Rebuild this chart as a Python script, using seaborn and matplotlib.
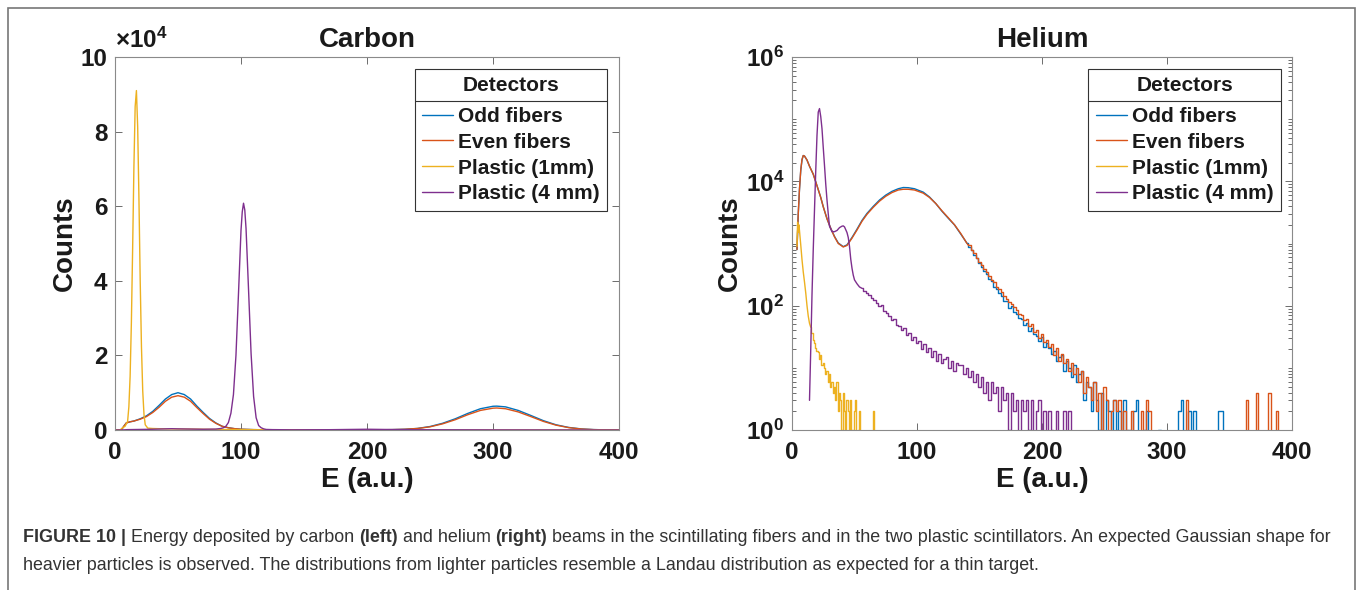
import numpy as np
import pandas as pd
import matplotlib
matplotlib.use("Agg")
import matplotlib.pyplot as plt
import seaborn as sns
from matplotlib.lines import Line2D
from matplotlib.patches import Rectangle
from matplotlib.ticker import FixedLocator, FuncFormatter, NullFormatter, LogLocator

# ------------------------------------------------------------------ data
DETECTORS = ["Odd fibers", "Even fibers", "Plastic (1mm)", "Plastic (4 mm)"]
COLORS = ["#0072BD", "#D95319", "#EDB120", "#7E2F8E"]

# ---- Carbon (counts in units of 10^4)
carbon_fiber_E = [0, 5, 7, 9, 12, 15, 20, 25, 30, 35,
                  40, 45, 50, 55, 60, 65, 70, 75, 80, 85,
                  90, 95, 100, 110, 120, 140, 160, 180, 200, 220,
                  230, 240, 250, 260, 270, 280, 290, 300, 303, 310,
                  320, 330, 340, 350, 360, 370, 380, 390, 400]
carbon_odd = [0, 0, 0.1, 0.19, 0.22, 0.24, 0.3, 0.38, 0.5, 0.66,
              0.83, 0.95, 1.0, 0.95, 0.83, 0.64, 0.47, 0.31, 0.19, 0.1,
              0.06, 0.035, 0.02, 0.01, 0.005, 0.003, 0.002, 0.002, 0.003, 0.01,
              0.02, 0.042, 0.093, 0.18, 0.30, 0.445, 0.57, 0.636, 0.64, 0.62,
              0.525, 0.39, 0.25, 0.14, 0.069, 0.029, 0.011, 0.004, 0.0]
carbon_even = [0, 0, 0.1, 0.19, 0.22, 0.24, 0.29, 0.36, 0.47, 0.61,
               0.77, 0.88, 0.92, 0.88, 0.77, 0.6, 0.44, 0.29, 0.18, 0.1,
               0.06, 0.035, 0.02, 0.01, 0.005, 0.003, 0.002, 0.002, 0.003, 0.01,
               0.02, 0.04, 0.085, 0.165, 0.275, 0.41, 0.525, 0.585, 0.59, 0.57,
               0.485, 0.36, 0.23, 0.13, 0.064, 0.027, 0.01, 0.004, 0.0]
carbon_p1_E = [0, 4, 6, 8, 10, 11, 12, 13, 14, 15,
               16, 17, 18, 19, 20, 21, 22, 23, 24, 26,
               30, 40, 60, 80, 100, 120, 150, 200, 300, 400]
carbon_p1 = [0, 0, 0.06, 0.1, 0.23, 0.62, 1.44, 2.88, 4.87, 7.04,
             8.67, 9.1, 8.12, 6.2, 4.0, 2.23, 1.05, 0.42, 0.14, 0.05,
             0.04, 0.03, 0.025, 0.015, 0.01, 0.005, 0.002, 0, 0, 0]
carbon_p4_E = [0, 5, 10, 20, 30, 40, 45, 50, 60, 70,
               80, 84, 86, 88, 90, 92, 94, 96, 98, 100,
               101, 102, 103, 104, 106, 108, 110, 112, 114, 116,
               118, 120, 125, 140, 170, 200, 230, 300, 400]
carbon_p4 = [0, 0, 0.01, 0.015, 0.02, 0.03, 0.035, 0.03, 0.025, 0.02,
             0.025, 0.04, 0.06, 0.1, 0.2, 0.45, 0.95, 2.0, 3.65, 5.35,
             5.85, 6.08, 5.9, 5.4, 3.75, 2.05, 0.9, 0.33, 0.12, 0.06,
             0.03, 0.015, 0.01, 0.005, 0.008, 0.02, 0.008, 0.003, 0.0]

# ---- Helium (counts); smooth part + noisy 2-unit bins
helium_fiber_E = [4, 5, 6, 7, 8, 9, 10, 12, 14, 17,
                  20, 23, 25, 28, 31, 34, 37, 41, 44, 48,
                  52, 56, 60, 65, 70, 75, 80, 85, 89, 93,
                  98, 105, 110, 115, 120, 125, 130, 135]
helium_odd = [800, 3000, 7500, 15000, 22000, 26000, 25500, 22000, 17500, 13000,
              8500, 5500, 3900, 2500, 1750, 1300, 1020, 890, 950, 1250,
              1700, 2350, 3050, 3950, 5000, 6000, 6900, 7600, 7950, 7900,
              7600, 6700, 5600, 4400, 3300, 2550, 1990, 1420]
helium_even = [800, 3000, 7600, 15200, 22500, 26000, 25500, 22000, 17500, 13000,
               8500, 5500, 3900, 2500, 1750, 1280, 1000, 880, 930, 1220,
               1650, 2280, 2950, 3820, 4800, 5750, 6600, 7250, 7450, 7450,
               7250, 6450, 5500, 4400, 3350, 2600, 2000, 1450]
helium_fiber_bin_start = 140
helium_odd_tail = [1010, 890, 780, 655, 585, 478, 421, 356, 322, 270,   # 140-158
                   249, 203, 188, 157, 144, 121, 117, 93, 99, 78,       # 160-178
                   74, 63, 61, 48, 53, 39, 44, 35, 32, 27,              # 180-198
                   31, 22, 25, 21, 17, 19, 13, 15, 16, 9,               # 200-218
                   13, 10, 7, 11, 6, 8, 9, 3, 6, 5,                     # 220-238
                   2, 6, 3, 1, 4, 0, 3, 2, 0, 3,                        # 240-258
                   1, 2, 0, 3, 0, 1, 0, 2, 3, 0,                        # 260-278
                   0, 1, 2, 0, 0, 0, 0, 1, 0, 0,                        # 280-298
                   0, 0, 0, 0, 0, 2, 3, 0, 0, 2,                        # 300-318
                   0, 2, 0, 0, 0, 0, 0, 0, 0, 0,                        # 320-338
                   0, 2, 2, 0, 0, 0, 0, 0, 0, 0,                        # 340-358
                   0, 0, 0, 0, 0, 0, 0, 0, 0, 0,                        # 360-378
                   0, 0, 0, 0, 0, 0, 0, 0, 0, 0]                        # 380-398
helium_even_tail = [1000, 935, 785, 700, 595, 512, 446, 395, 342, 305,  # 140-158
                    258, 243, 201, 184, 163, 143, 128, 113, 106, 95,    # 160-178
                    84, 73, 70, 59, 60, 47, 50, 38, 41, 30,             # 180-198
                    35, 26, 28, 22, 24, 16, 21, 13, 17, 12,             # 200-218
                    14, 9, 12, 8, 10, 6, 9, 4, 7, 5,                    # 220-238
                    3, 6, 2, 4, 1, 5, 3, 0, 2, 3,                       # 240-258
                    2, 3, 0, 2, 1, 0, 2, 0, 0, 0,                       # 260-278
                    2, 0, 3, 2, 0, 0, 0, 0, 0, 0,                       # 280-298
                    0, 0, 0, 0, 0, 0, 0, 0, 3, 0,                       # 300-318
                    0, 0, 0, 0, 0, 0, 0, 0, 0, 0,                       # 320-338
                    0, 0, 0, 0, 0, 0, 0, 0, 0, 0,                       # 340-358
                    0, 0, 3, 0, 0, 0, 4, 0, 0, 0,                       # 360-378
                    0, 4, 0, 0, 2, 0, 0, 0, 0, 0]                       # 380-398

helium_p1_E = [4, 4.5, 5, 5.5, 6, 7, 8, 9, 10, 11, 12, 13, 14]
helium_p1 = [900, 2200, 1500, 2000, 1600, 950, 550, 350, 240, 160, 100, 68, 52]
helium_p1_bin_start = 15
helium_p1_tail = [45, 36, 28, 25, 21, 19, 18, 14, 16, 11,
                  12, 10, 8, 9, 6, 8, 5, 6, 4, 5,
                  3, 6, 2, 4, 3, 1, 4, 2, 0, 3,
                  2, 0, 3, 1, 0, 2, 3, 0, 1, 2,
                  0, 0, 0, 0, 0, 0, 0, 0, 0, 0,
                  2, 0, 0, 0, 0, 0]

helium_p4_E = [14, 15, 16, 17, 18, 19, 20, 21, 22,
               23, 24, 25, 26, 27, 28, 29, 30, 32, 34,
               36, 38, 40, 41, 42, 44, 45, 46, 47, 48,
               49, 50, 52, 54]
helium_p4 = [3, 20, 150, 800, 3500, 15000, 55000, 130000, 148000,
             110000, 70000, 35000, 18000, 9000, 5000, 3000, 1900, 1550, 1550,
             1620, 1800, 1900, 1920, 1850, 1500, 1250, 900, 560, 400,
             310, 260, 225, 200]
helium_p4_bin_start = 56
helium_p4_tail = [190, 175, 160, 148, 131, 125, 112, 98, 101, 81,
                  77, 69, 58, 61, 49, 47, 40, 43, 34, 37,
                  28, 31, 25, 27, 20, 24, 18, 21, 15, 19,
                  13, 17, 12, 14, 15, 10, 13, 9, 12, 11,
                  11, 8, 10, 7, 9, 6, 8, 5, 7, 4,
                  6, 3, 6, 4, 5, 2, 5, 3, 4, 1,
                  4, 2, 3, 0, 3, 2, 3, 1, 3, 0,
                  2, 3, 1, 2, 0, 2, 1, 0, 2, 0,
                  0, 2, 0, 2, 0, 0, 0, 0]

# ------------------------------------------------------------------ style
sns.set_style("ticks")
plt.rcParams["font.family"] = ["Liberation Sans", "DejaVu Sans"]
plt.rcParams["mathtext.fontset"] = "custom"
plt.rcParams["mathtext.rm"] = "Liberation Sans:bold"
plt.rcParams["mathtext.it"] = "Liberation Sans:bold"
plt.rcParams["mathtext.bf"] = "Liberation Sans:bold"
plt.rcParams["mathtext.default"] = "rm"

W, H = 1358, 590
fig = plt.figure(figsize=(W / 100, H / 100), dpi=100)


def px_axes(l, t, r, b):
    return [l / W, 1 - b / H, (r - l) / W, (b - t) / H]


axC = fig.add_axes(px_axes(115, 57, 619, 430))
axH = fig.add_axes(px_axes(792, 57, 1292, 430))

TICK_SIZE = 17.5
LAB_SIZE = 20
SPINE = "#8a8a8a"
TXT = "#1a1a1a"


def draw(ax, E, y, color, steps=False, label=None):
    df = pd.DataFrame({"E": E, "Counts": y})
    kw = {"drawstyle": "steps-mid"} if steps else {}
    sns.lineplot(data=df, x="E", y="Counts", ax=ax, color=color, linewidth=1.0,
                 estimator=None, sort=False, legend=False, label=label, **kw)


# ---- Carbon
scale = 1e4
draw(axC, carbon_fiber_E, np.array(carbon_odd) * scale, COLORS[0], label=DETECTORS[0])
draw(axC, carbon_fiber_E, np.array(carbon_even) * scale, COLORS[1], label=DETECTORS[1])
draw(axC, carbon_p1_E, np.array(carbon_p1) * scale, COLORS[2], label=DETECTORS[2])
draw(axC, carbon_p4_E, np.array(carbon_p4) * scale, COLORS[3], label=DETECTORS[3])


# ---- Helium
def helium_series(ax, E_s, v_s, start, tail, step, color, label):
    E_t = start + step * np.arange(len(tail))
    draw(ax, list(E_s) + [E_t[0]], list(v_s) + [tail[0]], color, label=label)
    draw(ax, E_t, tail, color, steps=True)


helium_series(axH, helium_fiber_E, helium_odd, helium_fiber_bin_start, helium_odd_tail, 2, COLORS[0], DETECTORS[0])
helium_series(axH, helium_fiber_E, helium_even, helium_fiber_bin_start, helium_even_tail, 2, COLORS[1], DETECTORS[1])
helium_series(axH, helium_p1_E, helium_p1, helium_p1_bin_start, helium_p1_tail, 1, COLORS[2], DETECTORS[2])
helium_series(axH, helium_p4_E, helium_p4, helium_p4_bin_start, helium_p4_tail, 2, COLORS[3], DETECTORS[3])
axH.set_yscale("log")

# ---- axes cosmetics
for ax in (axC, axH):
    ax.set_xlim(0, 400)
    ax.xaxis.set_major_locator(FixedLocator([0, 100, 200, 300, 400]))
    ax.set_xlabel("E (a.u.)", fontsize=LAB_SIZE, fontweight="bold", color=TXT, labelpad=2)
    ax.set_ylabel("Counts", fontsize=LAB_SIZE, fontweight="bold", color=TXT)
    for s in ax.spines.values():
        s.set_visible(True)
        s.set_color(SPINE)
        s.set_linewidth(0.8)
    ax.tick_params(which="both", direction="in", top=True, right=True, color="#555555",
                   width=0.6, labelcolor=TXT)
    ax.tick_params(which="major", length=5, labelsize=TICK_SIZE)
    ax.tick_params(axis="x", which="major", pad=8)
    ax.tick_params(axis="y", which="major", pad=5.5)

axC.set_ylim(0, 1e5)
axC.yaxis.set_major_locator(FixedLocator([0, 2e4, 4e4, 6e4, 8e4, 1e5]))
axC.yaxis.set_major_formatter(FuncFormatter(lambda v, p: f"{v / 1e4:g}"))
axC.set_title("Carbon", fontsize=LAB_SIZE, fontweight="bold", color=TXT, pad=7)
axC.text(0.0, 1.012, r"$\times10^{4}$", transform=axC.transAxes, ha="left", va="bottom",
         fontsize=TICK_SIZE, color=TXT)
axC.yaxis.labelpad = 2

axH.set_ylim(1, 1e6)
axH.yaxis.set_major_locator(FixedLocator([1, 1e2, 1e4, 1e6]))
axH.yaxis.set_major_formatter(FuncFormatter(lambda v, p: r"$10^{%d}$" % int(round(np.log10(v)))))
axH.yaxis.set_minor_locator(LogLocator(base=10, subs=np.arange(1, 10), numticks=50))
axH.yaxis.set_minor_formatter(NullFormatter())
axH.tick_params(axis="y", which="minor", length=3)
axH.set_title("Helium", fontsize=LAB_SIZE, fontweight="bold", color=TXT, pad=7)
axH.yaxis.labelpad = 2

for ax in (axC, axH):
    for lab in ax.get_xticklabels() + ax.get_yticklabels():
        lab.set_fontweight("bold")


# ---- legends
LEG_SIZE = 15
LEG_SPACING = 0.33


def make_legend(ax, anchor):
    leg = ax.legend(loc="upper right", bbox_to_anchor=anchor, bbox_transform=ax.transAxes,
                    title="Detectors", prop={"weight": "bold", "size": LEG_SIZE},
                    title_fontproperties={"weight": "bold", "size": LEG_SIZE},
                    frameon=True, fancybox=False, framealpha=1, edgecolor="#333333",
                    borderaxespad=0, handlelength=1.5, handletextpad=0.25,
                    labelspacing=LEG_SPACING, borderpad=0.35)
    leg.get_frame().set_linewidth(0.8)
    for t in leg.get_texts():
        t.set_color(TXT)
    leg.get_title().set_color(TXT)
    try:
        leg._legend_box.sep = LEG_SPACING * LEG_SIZE + 3.4
    except Exception:
        pass
    return leg


legs = [make_legend(axC, (0.977, 0.968)), make_legend(axH, (0.978, 0.968))]

# ---- caption and frame
cap = fig.add_axes([0, 0, 1, 1], zorder=-5)
cap.set_axis_off()
cap.set_xlim(0, 1)
cap.set_ylim(0, 1)
cap.add_patch(Rectangle((8 / W, -0.05), (1355 - 8) / W, 1.05 - 8 / H, fill=False,
                        edgecolor="#777777", linewidth=1.2, transform=cap.transAxes, clip_on=False))

CAPC = "#333333"
CAP_SIZE = 12.9


def rich(x, y, parts):
    t = cap.text(x, y, parts[0][0], transform=cap.transAxes, fontsize=CAP_SIZE,
                 fontweight=parts[0][1], color=CAPC, ha="left", va="baseline")
    for s, w in parts[1:]:
        t = cap.annotate(s, xy=(1, 0), xycoords=t, fontsize=CAP_SIZE, fontweight=w,
                         color=CAPC, ha="left", va="bottom")


rich(23 / W, (H - 542) / H, [
    ("FIGURE 10 |", "bold"),
    (" Energy deposited by carbon ", "normal"),
    ("(left)", "bold"),
    (" and helium ", "normal"),
    ("(right)", "bold"),
    (" beams in the scintillating fibers and in the two plastic scintillators. An expected Gaussian shape for", "normal"),
])
rich(23 / W, (H - 570) / H, [
    ("heavier particles is observed. The distributions from lighter particles resemble a Landau distribution as expected for a thin target.", "normal"),
])

# ---- legend title separator
fig.canvas.draw()
r = fig.canvas.get_renderer()
inv = fig.transFigure.inverted()
for leg in legs:
    fb = leg.get_frame().get_window_extent(r)
    tb = leg.get_title().get_window_extent(r)
    hb = leg.get_texts()[0].get_window_extent(r)
    ysep = (tb.y0 + hb.y1) / 2
    x0, y0 = inv.transform((fb.x0, ysep))
    x1, _ = inv.transform((fb.x1, ysep))
    fig.add_artist(Line2D([x0, x1], [y0, y0], transform=fig.transFigure,
                          color="#333333", linewidth=0.8, zorder=10))

fig.savefig("out.png", dpi=100)
